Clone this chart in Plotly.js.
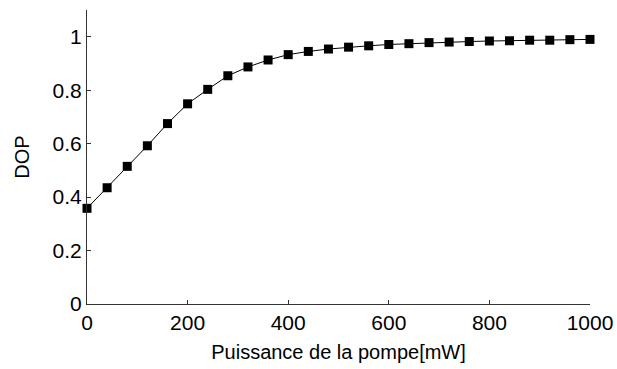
<!DOCTYPE html>
<html>
<head>
<meta charset="utf-8">
<script src="https://cdn.plot.ly/plotly-3.0.1.min.js"></script>
<style>html,body{margin:0;padding:0;background:#fff;}#chart{width:617px;height:369px;}</style>
</head>
<body>
<div id="chart"></div>
<script>
const pumpPower = [0,40,80,120,160,200,240,280,320,360,400,440,480,520,560,600,640,680,720,760,800,840,880,920,960,1000];
const dop = [0.358,0.435,0.515,0.592,0.675,0.749,0.803,0.854,0.887,0.913,0.933,0.945,0.954,0.961,0.966,0.971,0.974,0.978,0.980,0.982,0.984,0.985,0.987,0.987,0.989,0.990];
const xTicks = [0,200,400,600,800,1000];
const yTicks = [0,0.2,0.4,0.6,0.8,1];

const trace = {
  x: pumpPower, y: dop, type: 'scatter', mode: 'lines+markers',
  line: {color: '#000', width: 1},
  marker: {symbol: 'square', size: 9, color: '#000'},
  cliponaxis: false
};
const tickFont = {family: 'Liberation Sans, Arial, sans-serif', size: 21, color: '#000'};
const titleFont = {family: 'Liberation Sans, Arial, sans-serif', size: 20, color: '#000'};
const layout = {
  width: 617, height: 369,
  margin: {l: 87, r: 27, t: 10, b: 65},
  paper_bgcolor: '#fff', plot_bgcolor: '#fff',
  showlegend: false,
  font: tickFont,
  xaxis: {
    range: [0, 1000], tickvals: xTicks, ticktext: xTicks.map(String),
    ticks: 'inside', ticklen: 4, tickcolor: '#333', showgrid: false, zeroline: false,
    showline: true, linecolor: '#333', linewidth: 1, mirror: false,
    tickfont: tickFont,
    title: {text: 'Puissance de la pompe[mW]', font: titleFont, standoff: 11}
  },
  yaxis: {
    range: [0, 1.1], tickvals: yTicks, ticktext: yTicks.map(String),
    ticks: 'inside', ticklen: 4, tickcolor: '#333', showgrid: false, zeroline: false,
    showline: true, linecolor: '#333', linewidth: 1, mirror: false,
    tickfont: tickFont,
    title: {text: 'DOP', font: titleFont, standoff: 17}
  }
};
Plotly.newPlot('chart', [trace], layout, {displayModeBar: false, staticPlot: true});
</script>
</body>
</html>
